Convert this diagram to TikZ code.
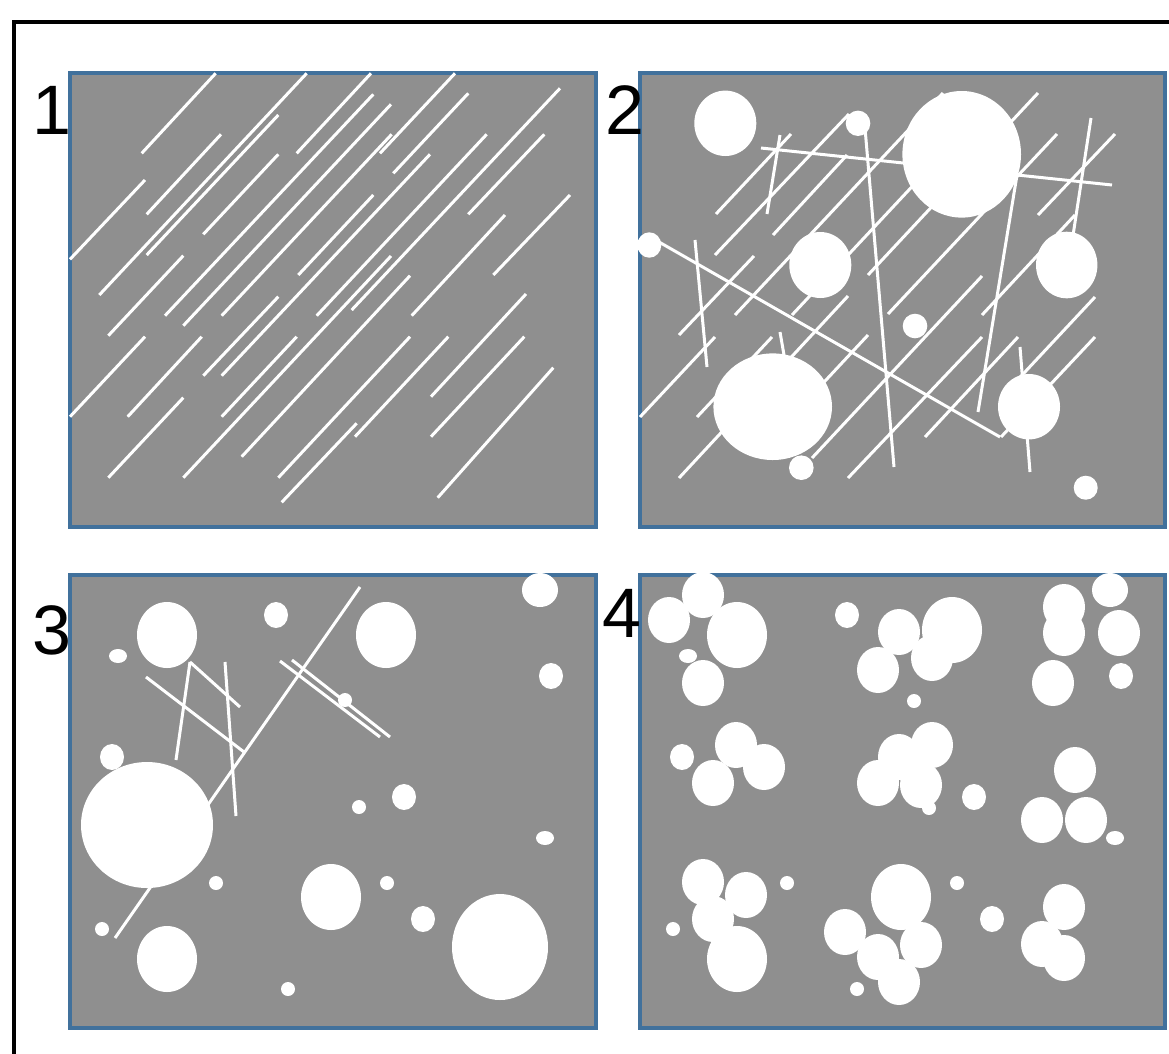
\documentclass[tikz,border=0pt]{standalone}
\usepackage{fontspec}
\setmainfont{Liberation Sans}
\definecolor{panelgray}{HTML}{8F8F8F}
\definecolor{panelblue}{HTML}{41719C}
\begin{document}
\begin{tikzpicture}[x=1pt,y=-1pt,
  frame/.style={draw=black,line width=4pt},
  panel/.style={fill=panelgray,draw=panelblue,line width=4pt},
  fiber/.style={draw=white,line width=3pt},
  pore/.style={fill=white},
  tag/.style={font=\fontsize{70}{72}\selectfont,inner sep=0pt}]
\clip (0,0) rectangle (1169,1053);
\fill[white] (0,0) rectangle (1169,1053);
% outer frame (runs off the page at right and bottom)
\draw[frame] (14,1100) -- (14,22) -- (1200,22);

% the four panels
\path[panel] (70,73) rectangle (596,527);
\path[panel] (640,73) rectangle (1165,527);
\path[panel] (70,575) rectangle (596,1028);
\path[panel] (640,575) rectangle (1165,1028);

% panel 1: aligned fibres only
\foreach \xa/\ya/\xb/\yb in {
  141.7/153.3/215.7/73.3, 296.7/153.3/371/73.3, 99.3/295/306.7/73.3,
  380/153.3/455/73.3, 165/315.7/373.3/94.3, 183.3/325.7/391/104.3,
  221.7/315.7/391.7/134.3, 393.3/173.3/468.3/93.3, 146.7/214.3/221/134.3,
  70/259.3/145/180, 146.7/255/278.3/115, 203.3/234.3/278.3/154.3,
  108.3/335.7/183.3/255.7, 298.3/275/373.3/195, 203.3/375.7/278.3/296.7,
  221.7/375.7/430/154.3, 316.7/315.7/486.7/134.3, 351.7/310/560/88.3,
  468.3/214.3/544.3/134.3, 493.3/275/570/195, 411.7/315.7/505/215,
  70/416.7/145/336.7, 127.7/416.7/201.7/336.7, 108.3/477.7/183.3/397.7,
  221.7/416.7/296.7/336.7, 183.3/477.7/391/256, 241.7/456.7/410/275.7,
  278.3/477.7/410/336.7, 355/436.7/448.3/336.7, 281.7/502.3/356.7/423.3,
  431/396.7/526/294, 431/436.7/524.3/336.7, 437.7/497.7/553.3/367.7}
  \draw[fiber] (\xa,\ya) -- (\xb,\yb);

% panel 2: fibres in several directions with pores on top
\foreach \xa/\ya/\xb/\yb in {
  716/214/791/134, 715/255/849/114, 767/214/780/135, 761/148/1112/185,
  773/235/847/155, 865/128/894/467, 659/242/1000/437, 695/240/707/367,
  735/315/943/93, 679/335/754/256, 640/417/715/337, 697/417/772/337,
  780/332/784/355, 792/315/935/162, 868/275/1038/93, 848/296/679/478,
  868/335/770/440, 812/458/982/276, 848/478/982/337, 888/314/1057/134,
  1038/215/1115/134, 1091/118/1070/255, 982/315/1075/215, 1017/175/978/412,
  1010/388/1095/297, 1001/437/1095/337, 925/437/1018/337, 1020/347/1030/472}
  \draw[fiber] (\xa,\ya) -- (\xb,\yb);
\foreach \cx/\cy/\rx/\ry in {
  725.3/123.3/31/32.7, 858/123.3/12.3/12.7, 649.3/245/12/12.7,
  820.3/265/31/33, 772.7/406.7/59.3/53.3, 801.3/467.7/12.3/12.3,
  961.7/154.3/59.3/63.3, 1066.7/265/30.7/33.3, 915/326/12.3/12.3,
  1029/406.7/31/32.7, 1085.7/487.7/12/12}
  \fill[pore] (\cx,\cy) ellipse [x radius=\rx pt, y radius=\ry pt];

% panel 3: a few fibres and scattered pores
\foreach \xa/\ya/\xb/\yb in {
  146/677/244/752, 190/662/240/707, 176/760/190/662, 225/662/236/816,
  280/661/380/737, 292/660/390/737, 115/938/360/587}
  \draw[fiber] (\xa,\ya) -- (\xb,\yb);
\foreach \cx/\cy/\rx/\ry in {
  167/635/30/33, 276/615/12/13, 386/635/30/33, 540/590/18/17,
  118/656/9/7, 551/676/12/13, 112/757/12/13, 147/825/66/63,
  345/700/7/7, 404/797/12/13, 359/807/7/7, 545/838/9/7,
  216/883/7/7, 387/883/7/7, 331/897/30/33, 423/919/12/13,
  500/947/48/53, 102/929/7/7, 167/959/30/33, 288/989/7/7}
  \fill[pore] (\cx,\cy) ellipse [x radius=\rx pt, y radius=\ry pt];

% panel 4: clustered pores
\foreach \cx/\cy/\rx/\ry in {
  669/620/21/23, 703/595/21/23, 737/635/30/33, 688/656/9/7, 703/683/21/23,
  847/615/12/13, 899/632/21/23, 952/630/30/33, 932/658/21/23, 878/670/21/23,
  914/701/7/7,
  1064/607/21/23, 1110/590/18/17, 1064/633/21/23, 1119/633/21/23,
  1053/683/21/23, 1121/676/12/13,
  682/757/12/13, 736/745/21/23, 764/767/21/23, 713/783/21/23,
  899/757/21/23, 932/745/21/23, 921/785/21/23, 878/783/21/23, 929/808/7/7,
  974/797/12/13,
  1075/770/21/23, 1042/820/21/23, 1086/820/21/23, 1115/838/9/7,
  703/882/21/23, 746/895/21/23, 713/919/21/23, 737/959/30/33, 673/929/7/7,
  787/883/7/7,
  901/897/30/33, 845/932/21/23, 921/945/21/23, 878/957/21/23, 899/982/21/23,
  857/989/7/7, 957/883/7/7, 992/919/12/13,
  1064/907/21/23, 1042/944/21/23, 1064/958/21/23}
  \fill[pore] (\cx,\cy) ellipse [x radius=\rx pt, y radius=\ry pt];

% panel numbers
\node[tag] (n1) at (52,110) {1};
\node[tag] (n2) at (625,110) {2};
\node[tag] (n3) at (52,630) {3};
\node[tag] (n4) at (622,613) {4};
\end{tikzpicture}
\end{document}
